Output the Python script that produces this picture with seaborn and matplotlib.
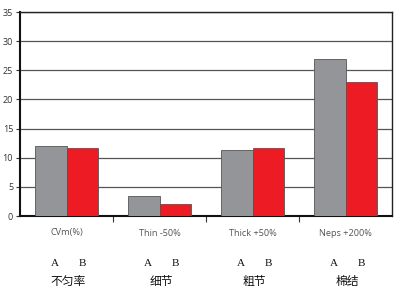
import matplotlib
matplotlib.use("Agg")
import matplotlib.pyplot as plt
import seaborn as sns
import pandas as pd
from matplotlib.transforms import blended_transform_factory

categories = ["CVm(%)", "Thin -50%", "Thick +50%", "Neps +200%"]
cn_labels = ["不匀率", "细节", "粗节", "棉结"]
series_names = ["A", "B"]
values_a = [12.0, 3.4, 11.3, 27.0]
values_b = [11.7, 2.0, 11.6, 23.0]
yticks = [0, 5, 10, 15, 20, 25, 30, 35]

df = pd.DataFrame({
    "cat": categories * 2,
    "series": ["A"] * 4 + ["B"] * 4,
    "val": values_a + values_b,
})

sns.set_theme(style="white")
plt.rcParams['font.family'] = ['Open Sans', 'DejaVu Sans']

fig = plt.figure(figsize=(3.99, 2.91), dpi=100)
ax = fig.add_axes([20 / 399, 75 / 291, 372 / 399, 204 / 291])

sns.barplot(data=df, x="cat", y="val", hue="series", order=categories,
            hue_order=series_names, palette={"A": "#939598", "B": "#ED1C24"},
            width=0.67, edgecolor="#555555", linewidth=0.6, saturation=1,
            legend=False, ax=ax, zorder=3)

ax.set_xlim(-0.5, len(categories) - 0.5)
ax.set_ylim(0, 35)
ax.set_yticks(yticks)
ax.set_yticklabels([str(t) for t in yticks], fontsize=6.5, color="#333333")
ax.set_xlabel("")
ax.set_ylabel("")
ax.yaxis.grid(True, color="#555555", linewidth=0.9, zorder=0)
ax.set_axisbelow(True)

# x ticks at category boundaries, labels at centers
ax.set_xticks([i + 0.5 for i in range(len(categories) - 1)], minor=False)
ax.set_xticklabels([])
ax.set_xticks(range(len(categories)), minor=True)
ax.set_xticklabels(categories, minor=True, fontsize=6.6, color="#555555")
ax.tick_params(axis="x", which="major", direction="out", length=4, width=0.8,
               color="#333333", bottom=True)
ax.tick_params(axis="x", which="minor", length=0, pad=9)
ax.tick_params(axis="y", direction="out", length=3, width=0.8, color="#333333",
               left=True, pad=2)

for side in ["left", "bottom"]:
    ax.spines[side].set_color("#111111")
    ax.spines[side].set_linewidth(1.5)
for side in ["top", "right"]:
    ax.spines[side].set_color("#222222")
    ax.spines[side].set_linewidth(1.0)

trans = blended_transform_factory(ax.transData, fig.transFigure)
for i, cn in enumerate(cn_labels):
    ax.text(i - 0.13, 1 - 263 / 291, series_names[0], transform=trans,
            ha="center", va="center", fontsize=8, family="Liberation Serif",
            color="#111111")
    ax.text(i + 0.17, 1 - 263 / 291, series_names[1], transform=trans,
            ha="center", va="center", fontsize=8, family="Liberation Serif",
            color="#111111")
    ax.text(i + 0.02, 1 - 281 / 291, cn, transform=trans, ha="center",
            va="center", fontsize=8.5, family=["Noto Sans CJK SC", "DejaVu Sans"],
            color="#111111")

fig.savefig("out.png", dpi=100)
